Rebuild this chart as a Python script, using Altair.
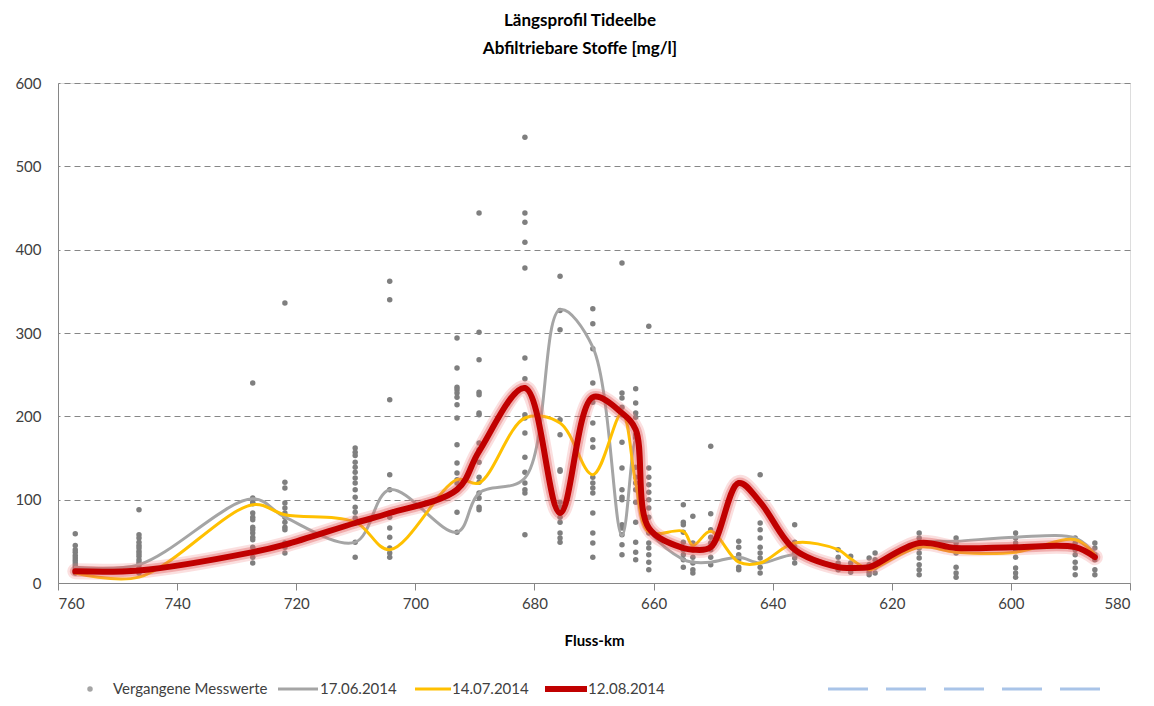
import altair as alt
import pandas as pd

# ---- data ----
km = [757.1, 746.4, 727.3, 721.9, 710.1, 704.3, 693.0, 689.3, 681.6, 675.7,
      670.2, 665.3, 663.0, 660.8, 655.0, 653.4, 650.4, 645.7, 642.1, 636.3,
      629.0, 626.9, 623.8, 622.8, 615.4, 609.2, 599.2, 589.2, 585.9]

past_values = [
    [59, 45, 40, 37, 33, 30, 27, 24, 21, 18, 15, 12],
    [88, 58, 54, 49, 45, 42, 38, 35, 32, 28, 25, 22, 18, 15, 12],
    [240, 102, 97, 95, 84, 79, 76, 67, 64, 60, 55, 52, 43, 31, 24],
    [336, 121, 114, 96, 90, 84, 79, 73, 67, 64, 48, 43, 36],
    [162, 157, 153, 145, 139, 133, 126, 120, 112, 103, 91, 85, 78, 72, 49, 31],
    [362, 340, 220, 130, 112, 84, 79, 66, 55, 42, 36, 31],
    [294, 258, 235, 232, 228, 223, 214, 198, 166, 144, 132, 124, 120, 112, 85, 61],
    [444, 301, 268, 229, 226, 204, 202, 168, 160, 145, 127, 121, 108, 102, 91, 88],
    [535, 444, 433, 409, 378, 270, 245, 234, 202, 198, 180, 151, 133, 120, 112, 108, 58],
    [368, 327, 304, 196, 178, 136, 134, 97, 91, 84, 79, 73, 60, 54, 49],
    [329, 311, 281, 240, 217, 192, 172, 163, 127, 120, 114, 108, 84, 60, 48, 31],
    [384, 228, 222, 211, 202, 169, 138, 112, 103, 100, 70, 66, 58, 46, 34],
    [233, 216, 204, 199, 178, 174, 139, 127, 120, 112, 97, 73, 49, 37, 28],
    [308, 138, 127, 118, 109, 100, 90, 79, 66, 60, 48, 42, 34, 25, 16],
    [94, 73, 70, 61, 49, 40, 34, 28, 19],
    [80, 48, 40, 31, 24, 16, 12],
    [164, 83, 64, 55, 48, 40, 31, 22],
    [120, 50, 43, 34, 28, 19, 16],
    [130, 97, 72, 64, 54, 43, 36, 30, 19, 12],
    [70, 49, 43, 36, 30, 24],
    [40, 31, 24, 16],
    [32, 24, 13],
    [30, 22, 13, 10],
    [36, 28, 19, 12],
    [60, 54, 48, 42, 36, 30, 22, 16, 10],
    [54, 48, 42, 36, 19, 12, 7],
    [60, 54, 48, 40, 31, 18, 12, 7],
    [54, 48, 40, 34, 25, 18, 10],
    [48, 42, 34, 28, 16, 10],
]

series_0617 = [19, 22, 101, 79, 49, 112, 61, 108, 126, 328, 283, 57, 172, 65, 28,
               25, 25, 31, 24, 34, 20, 19, 18, 21, 48, 50, 55, 54, 35]
series_0714 = [12, 7, 94, 82, 73, 40, 124, 120, 198, 192, 130, 204, 120, 61, 62,
               45, 62, 25, 24, 48, 40, 29, 16, 18, 43, 37, 37, 52, 34]
series_0812 = [14, 15, 37, 46, 72, 84, 112, 158, 234, 84, 223, 204, 184, 66, 42,
               40, 43, 120, 97, 40, 19, 18, 19, 22, 48, 42, 43, 43, 31]

x_ticks = [760, 740, 720, 700, 680, 660, 640, 620, 600, 580]
y_ticks = [0, 100, 200, 300, 400, 500, 600]

title_lines = ["Längsprofil Tideelbe", "Abfiltriebare Stoffe [mg/l]"]
x_title = "Fluss-km"
legend_labels = ["Vergangene Messwerte", "17.06.2014", "14.07.2014", "12.08.2014"]

# ---- tables ----
df_pts = pd.DataFrame([{"km": k, "v": v} for k, vals in zip(km, past_values) for v in vals])
df_lines = pd.DataFrame({"km": km, "g": series_0617, "o": series_0714, "r": series_0812})

FONT = "Lato"
TXT = "#404040"
AX = "#868686"

xscale = alt.Scale(domain=[580, 760], reverse=True, nice=False, zero=False)
yscale = alt.Scale(domain=[0, 600], nice=False)

xaxis = alt.Axis(values=x_ticks, title=x_title, format="d", grid=False,
                 domain=True, domainColor=AX, ticks=True, tickColor=AX, tickSize=7,
                 labelFont=FONT, labelFontSize=15, labelColor=TXT, labelPadding=6,
                 titleFont=FONT, titleFontSize=15, titleFontWeight="bold",
                 titleColor="black", titlePadding=22)
yaxis = alt.Axis(values=y_ticks, title=None, format="d", grid=True,
                 gridColor=AX, gridDash=[6, 4], gridWidth=1,
                 domain=True, domainColor=AX, ticks=False,
                 labelFont=FONT, labelFontSize=15, labelColor=TXT, labelPadding=17)

points = alt.Chart(df_pts).mark_circle(size=30, color="#7F7F7F", opacity=1).encode(
    x=alt.X("km:Q", scale=xscale, axis=xaxis),
    y=alt.Y("v:Q", scale=yscale, axis=yaxis),
)

def line_layer(field, color, width, opacity=1.0):
    return alt.Chart(df_lines).mark_line(
        color=color, strokeWidth=width, opacity=opacity,
        interpolate="catmull-rom", strokeCap="round", strokeJoin="round"
    ).encode(
        x=alt.X("km:Q", scale=xscale, axis=xaxis),
        y=alt.Y(f"{field}:Q", scale=yscale, axis=yaxis),
        order=alt.Order("km:Q"),
    )

gray_line = line_layer("g", "#A5A5A5", 3)
yellow_line = line_layer("o", "#FFC000", 3)
red_glow1 = line_layer("r", "#F08080", 16, 0.25)
red_glow2 = line_layer("r", "#E05050", 11, 0.35)
red_line = line_layer("r", "#C00000", 6)

# ---- legend (drawn below the plot) ----
LY = 606

def one(label):
    return pd.DataFrame({"label": [label]})

def leg_text(label, x):
    return alt.Chart(one(label)).mark_text(
        align="left", baseline="middle", font=FONT, fontSize=15, color=TXT
    ).encode(text="label:N", x=alt.value(x), y=alt.value(LY))

def leg_rule(color, width, x1, x2, dash=None):
    kw = dict(color=color, strokeWidth=width)
    if dash:
        kw["strokeDash"] = dash
    return alt.Chart(one("")).mark_rule(**kw).encode(
        x=alt.value(x1), x2=alt.value(x2), y=alt.value(LY))

leg = [
    alt.Chart(one(legend_labels[0])).mark_circle(size=30, color="#7F7F7F").encode(
        x=alt.value(32), y=alt.value(LY)),
    leg_text(legend_labels[0], 55),
    leg_rule("#A5A5A5", 3, 220, 260),
    leg_text(legend_labels[1], 262),
    leg_rule("#FFC000", 3, 357, 393),
    leg_text(legend_labels[2], 394),
    leg_rule("#C00000", 6, 487, 529),
    leg_text(legend_labels[3], 530),
    leg_rule("#A9C4E8", 3, 770, 1042, [40, 18]),
]

chart = alt.layer(points, gray_line, yellow_line, red_glow1, red_glow2, red_line, *leg).properties(
    width=1072,
    height=500,
    padding={"left": 50, "top": 75, "right": 16, "bottom": 115},
    autosize=alt.AutoSizeParams(type="none"),
    title=alt.Title(title_lines, font=FONT, fontSize=17, fontWeight="bold",
                    color="black", anchor="middle", lineHeight=28, offset=18, dx=-14),
).configure_view(stroke=AX, strokeWidth=1).configure(background="white")

chart.save("out.html", embed_options={"renderer": "svg", "actions": False})
